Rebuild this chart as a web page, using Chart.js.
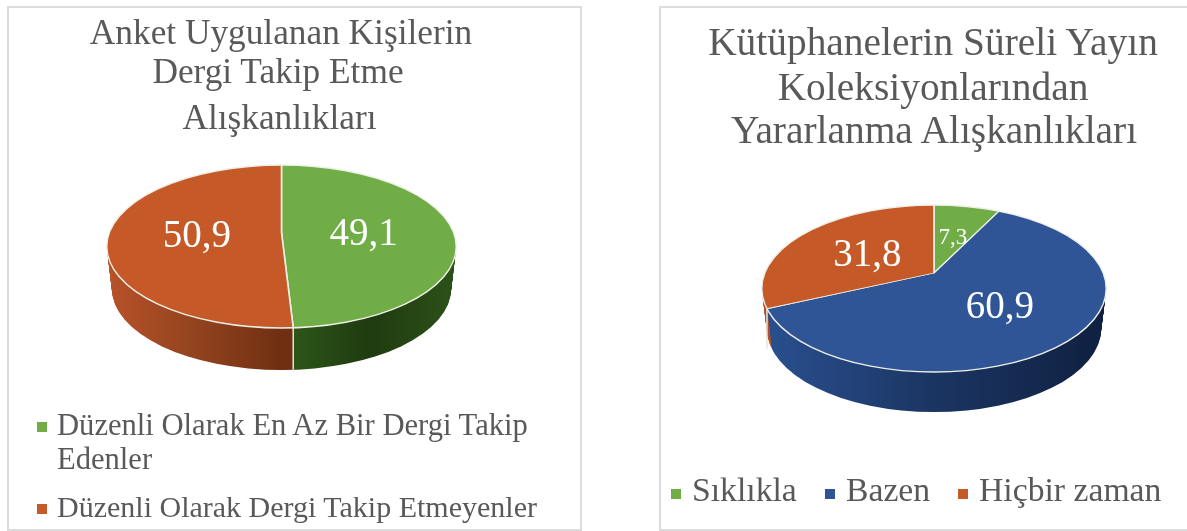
<!DOCTYPE html>
<html lang="tr">
<head>
<meta charset="utf-8">
<title>Dergi ve süreli yayın alışkanlıkları</title>
<script src="https://cdn.jsdelivr.net/npm/chart.js@4/dist/chart.umd.min.js"></script>
<style>
  html, body { margin: 0; background: #fff; overflow: hidden; }
  #stage { position: relative; width: 1187px; height: 531px; font-family: "Liberation Serif", serif; color: #595959; filter: blur(0.6px); }
  .panel { position: absolute; box-sizing: border-box; border: 2px solid #dcdcdc; background: #fff; }
  .panel canvas { position: absolute; left: 0; top: 0; }
  .line { position: absolute; white-space: nowrap; line-height: 1; }
  .line.center { transform: translateX(-50%); }
  .key { position: absolute; width: 10px; height: 10px; }
</style>
</head>
<body>
<div id="stage">
  <div class="panel" style="left:7px;top:6px;width:575px;height:525px"><canvas id="pieDergi"></canvas></div>
  <div class="panel" style="left:659px;top:6px;width:540px;height:525px"><canvas id="pieKoleksiyon"></canvas></div>
</div>
<script>
const dergiLabels = ["Düzenli Olarak En Az Bir Dergi Takip Edenler", "Düzenli Olarak Dergi Takip Etmeyenler"];
const dergiValues = [49.1, 50.9];
const koleksiyonLabels = ["Sıklıkla", "Bazen", "Hiçbir zaman"];
const koleksiyonValues = [7.3, 60.9, 31.8];

const green = "#70ad47";
const orange = "#c55a28";
const blue = "#2f5597";
const sideGreen = ["#2f5a1a", "#2f5a1a", "#2f5a1a", "#1f3b10", "#2c5218"];
const sideOrange = ["#b8522a", "#93431f", "#702f12", "#702f12", "#702f12"];
const sideBlue = ["#2a5090", "#1b3562", "#0f2040"];

// Pie lying flat. The hub sits above the middle of the outline like in the
// office 3D pie, so slices are drawn oversized and cut by the ellipse
const flatPie = {
  id: "flatPie",
  beforeDatasetsDraw(chart, args, opts) {
    const ctx = chart.ctx;
    const arcs = chart.getDatasetMeta(0).data;
    const hub = arcs[0];
    const r = hub.outerRadius;
    const ex = hub.x;
    const ey = hub.y + opts.shift;
    const ry = opts.ry;

    const big = (arc, changes) => {
      const copy = Object.create(arc);
      copy.outerRadius = r * 1.4;
      copy.options = { ...arc.options, ...changes };
      return copy;
    };
    const flat = (slices, rx) => {
      ctx.save();
      ctx.beginPath();
      ctx.ellipse(ex, ey, rx, ry, 0, 0, Math.PI * 2);
      ctx.clip();
      ctx.translate(0, hub.y);
      ctx.scale(1, opts.tilt);
      ctx.translate(0, -hub.y);
      slices.forEach(s => s.draw(ctx));
      ctx.restore();
    };

    // side wall, the outline pushed down and getting a bit narrower
    const walls = arcs.map((arc, i) => {
      const g = ctx.createLinearGradient(hub.x - r, 0, hub.x + r, 0);
      opts.sides[i].forEach((c, k) => g.addColorStop(k / (opts.sides[i].length - 1), c));
      return big(arc, { backgroundColor: g, borderWidth: 0 });
    });
    for (let d = opts.depth; d >= 1; d--) {
      ctx.save();
      ctx.translate(0, d);
      flat(walls, r - opts.shrink * d / opts.depth);
      ctx.restore();
    }

    // seams on the wall where a slice ends at the front
    ctx.strokeStyle = "#e6e6dc";
    ctx.lineWidth = 1.5;
    arcs.forEach(arc => {
      const s = Math.sin(arc.endAngle);
      if (s <= 0) return;
      const dx = Math.cos(arc.endAngle);
      const dy = s * opts.tilt;
      const a = dx * dx / (r * r) + dy * dy / (ry * ry);
      const b = -2 * dy * opts.shift / (ry * ry);
      const c = opts.shift * opts.shift / (ry * ry) - 1;
      const t = (-b + Math.sqrt(b * b - 4 * a * c)) / (2 * a);
      const x = hub.x + t * dx;
      const y = hub.y + t * dy;
      ctx.beginPath();
      ctx.moveTo(x, y);
      ctx.lineTo(x, y + opts.depth);
      ctx.stroke();
    });

    flat(arcs.map(a => big(a, {})), r);

    ctx.strokeStyle = "#eef0e8";
    ctx.lineWidth = 1.4;
    ctx.beginPath();
    ctx.ellipse(ex, ey, r, ry, 0, 0, Math.PI * 2);
    ctx.stroke();

    // value labels
    ctx.fillStyle = "#fff";
    ctx.textAlign = "center";
    ctx.textBaseline = "middle";
    arcs.forEach((arc, i) => {
      const mid = (arc.startAngle + arc.endAngle) / 2;
      const dist = r * opts.labelAt[i];
      const x = hub.x + dist * Math.cos(mid);
      const y = hub.y + dist * Math.sin(mid) * opts.tilt + 3;
      ctx.font = opts.labelSize[i] + 'px "Liberation Serif"';
      ctx.fillText(String(chart.data.datasets[0].data[i]).replace(".", ","), x, y);
    });
    return false;
  }
};

function makePie(id, labels, values, colors, w, h, padding, flat) {
  const canvas = document.getElementById(id);
  canvas.style.width = w + "px";
  canvas.style.height = h + "px";
  canvas.width = w;
  canvas.height = h;
  return new Chart(canvas, {
    type: "pie",
    data: {
      labels: labels,
      datasets: [{
        data: values,
        backgroundColor: colors,
        borderColor: "#eef0e8",
        borderWidth: 1.6
      }]
    },
    options: {
      responsive: false,
      animation: false,
      layout: { padding: padding },
      plugins: {
        legend: { display: false },
        tooltip: { enabled: false },
        flatPie: flat
      }
    },
    plugins: [flatPie]
  });
}

makePie("pieDergi", dergiLabels, dergiValues, [green, orange], 571, 521,
  { left: 97, right: 123, top: 49, bottom: 121 },
  { tilt: 0.46, shift: 14, ry: 81.5, depth: 42, shrink: 5, sides: [sideGreen, sideOrange], labelAt: [0.47, 0.485], labelSize: [39, 39] });

makePie("pieKoleksiyon", koleksiyonLabels, koleksiyonValues, [green, blue, orange], 536, 521,
  { left: 100, right: 90, top: 92, bottom: 83 },
  { tilt: 0.47, shift: 15.5, ry: 83.5, depth: 40, shrink: 5, sides: [sideOrange, sideBlue, sideOrange], labelAt: [0.48, 0.55, 0.46], labelSize: [23, 39, 39] });

// titles and legends
const stage = document.getElementById("stage");
function addLine(text, x, y, size, centered) {
  const el = document.createElement("div");
  el.className = centered ? "line center" : "line";
  el.textContent = text;
  el.style.left = x + "px";
  el.style.top = y + "px";
  el.style.fontSize = size + "px";
  stage.appendChild(el);
}
function addKey(color, x, y) {
  const el = document.createElement("div");
  el.className = "key";
  el.style.background = color;
  el.style.left = x + "px";
  el.style.top = y + "px";
  stage.appendChild(el);
}

addLine("Anket Uygulanan Kişilerin", 281, 15, 35.3, true);
addLine("Dergi Takip Etme", 278, 54, 35.3, true);
addLine("Alışkanlıkları", 279.5, 100, 35.3, true);
addLine("Kütüphanelerin Süreli Yayın", 933, 23, 39.4, true);
addLine("Koleksiyonlarından", 933, 68, 39.4, true);
addLine("Yararlanma Alışkanlıkları", 934, 111, 39.4, true);

addKey(green, 37, 422);
addLine("Düzenli Olarak En Az Bir Dergi Takip", 57, 410, 30.6, false);
addLine("Edenler", 57, 444, 30.6, false);
addKey(orange, 37, 504);
addLine(dergiLabels[1], 57, 492, 30, false);

addKey(green, 671, 489);
addLine(koleksiyonLabels[0], 692, 473, 33.7, false);
addKey(blue, 825, 489);
addLine(koleksiyonLabels[1], 846, 473, 33.7, false);
addKey(orange, 958, 489);
addLine(koleksiyonLabels[2], 979, 473, 33.7, false);
</script>
</body>
</html>
